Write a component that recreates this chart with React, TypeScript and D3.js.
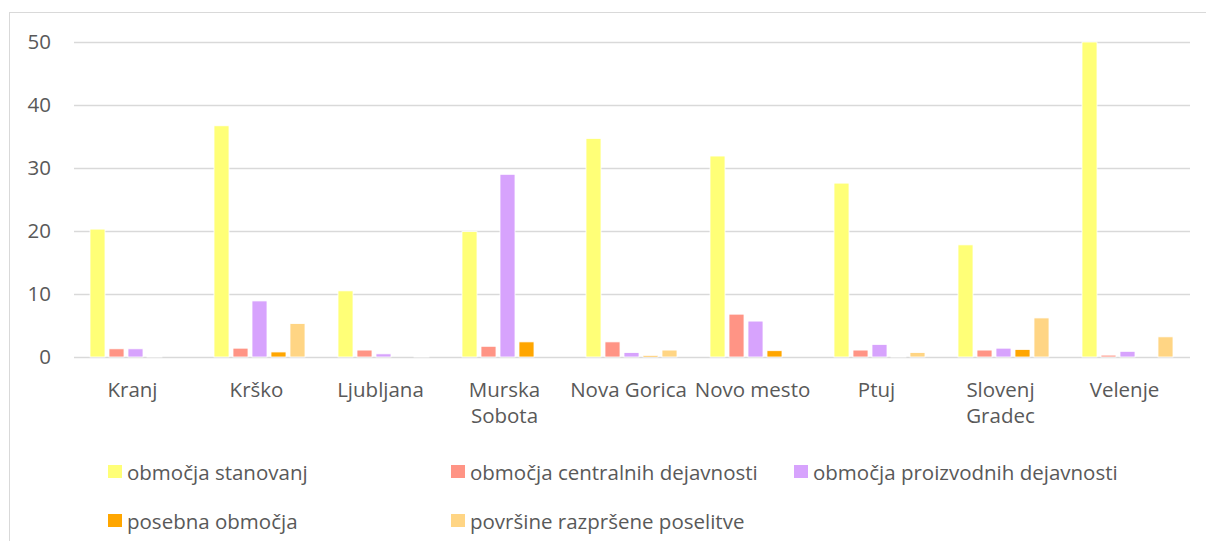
import React, { useEffect, useRef } from 'react';
import * as d3 from 'd3';

const cities = ['Kranj', 'Krško', 'Ljubljana', 'Murska Sobota', 'Nova Gorica', 'Novo mesto', 'Ptuj', 'Slovenj Gradec', 'Velenje'];
const seriesNames = ['območja stanovanj', 'območja centralnih dejavnosti', 'območja proizvodnih dejavnosti', 'posebna območja', 'površine razpršene poselitve'];
const stanovanj = [20.3, 36.7, 10.5, 19.9, 34.7, 31.9, 27.6, 17.8, 50];
const centralnih = [1.3, 1.4, 1.1, 1.7, 2.4, 6.8, 1.1, 1.1, 0.3];
const proizvodnih = [1.3, 8.9, 0.5, 29, 0.7, 5.7, 2.0, 1.4, 0.9];
const posebna = [0.1, 0.8, 0, 2.4, 0.2, 1.0, 0.1, 1.2, 0];
const razprsene = [0, 5.3, 0.1, 0, 1.1, 0, 0.7, 6.2, 3.2];
const colors = ['#ffff77', '#ff9485', '#d7a3fd', '#ffa600', '#ffd584'];
const yTicks = [0, 10, 20, 30, 40, 50];

const W = 1206, H = 541;
const margin = { top: 42, right: 16, bottom: 184, left: 74 };

export default function App() {
  const ref = useRef<SVGSVGElement>(null);

  useEffect(() => {
    const svg = d3.select(ref.current);
    svg.selectAll('*').remove();
    const font = '"Open Sans", sans-serif';
    const textColor = '#595959';
    const fs = 20.5;

    // chart frame
    svg.append('rect')
      .attr('x', 9.5).attr('y', 12.5)
      .attr('width', W + 20).attr('height', H + 20)
      .attr('fill', 'white').attr('stroke', '#d9d9d9');

    const x = d3.scaleBand().domain(cities).range([margin.left, W - margin.right]).padding(0);
    const y = d3.scaleLinear().domain([0, 50]).range([H - margin.bottom, margin.top]);
    const values = [stanovanj, centralnih, proizvodnih, posebna, razprsene];
    const inner = d3.scaleBand().domain(seriesNames).range([16, x.bandwidth() - 17]).paddingInner(0.21);

    // gridlines
    svg.append('g').selectAll('line').data(yTicks).join('line')
      .attr('x1', margin.left).attr('x2', W - margin.right)
      .attr('y1', d => Math.round(y(d)) + 0.5).attr('y2', d => Math.round(y(d)) + 0.5)
      .attr('stroke', '#d9d9d9').attr('stroke-width', 1.3);

    svg.append('g').selectAll('text').data(yTicks).join('text')
      .attr('x', 51).attr('y', d => y(d) + 7)
      .attr('text-anchor', 'end')
      .attr('font-family', font).attr('font-size', fs).attr('fill', textColor)
      .text(d => d);

    // bars
    seriesNames.forEach((s, si) => {
      svg.append('g').selectAll('rect').data(cities).join('rect')
        .attr('x', c => (x(c) as number) + (inner(s) as number))
        .attr('width', inner.bandwidth())
        .attr('y', (c, i) => y(values[si][i]))
        .attr('height', (c, i) => y(0) - y(values[si][i]))
        .attr('fill', colors[si])
        .attr('stroke', 'white').attr('stroke-width', 0.8);
    });

    // category labels
    const labelWrap: Record<string, string[]> = {
      'Murska Sobota': ['Murska', 'Sobota'],
      'Slovenj Gradec': ['Slovenj', 'Gradec'],
    };
    const cats = svg.append('g').selectAll('text').data(cities).join('text')
      .attr('y', 397)
      .attr('text-anchor', 'middle')
      .attr('font-family', font).attr('font-size', fs).attr('fill', textColor);
    cats.each(function (c) {
      const lines = labelWrap[c] || [c];
      const t = d3.select(this);
      lines.forEach((l, i) => {
        t.append('tspan').attr('x', (x(c) as number) + x.bandwidth() / 2 - 3.5).attr('dy', i === 0 ? 0 : 26).text(l);
      });
    });

    // legend
    const legendPos = [[108, 480], [451, 480], [794, 480], [108, 529], [451, 529]];
    const lg = svg.append('g').selectAll('g').data(seriesNames).join('g')
      .attr('transform', (d, i) => `translate(${legendPos[i][0]},${legendPos[i][1]})`);
    lg.append('rect').attr('x', 0).attr('y', -15).attr('width', 14).attr('height', 13)
      .attr('fill', (d, i) => colors[i]);
    lg.append('text').attr('x', 19).attr('y', 0)
      .attr('font-family', font).attr('font-size', fs).attr('fill', textColor)
      .text(d => d);
  }, []);

  return (
    <svg ref={ref} width={W} height={H}
      style={{ position: 'absolute', left: 0, top: 0, display: 'block', background: 'white' }} />
  );
}
